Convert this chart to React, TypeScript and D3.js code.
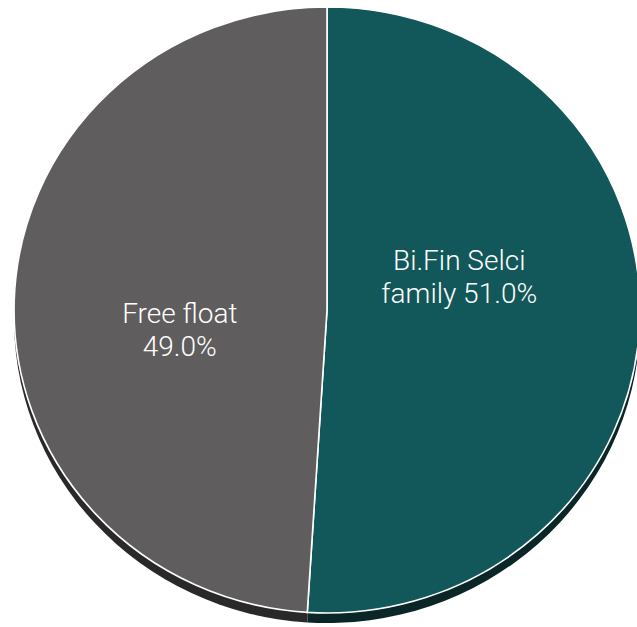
import React from "react";
import * as d3 from "d3";

const categories = ["Bi.Fin Selci family", "Free float"];
const values = [51.0, 49.0];
const labelLines = [["Bi.Fin Selci", "family 51.0%"], ["Free float", "49.0%"]];
const colors = ["#12585a", "#5f5d5e"];
const shadowColors = ["#0a2627", "#2a2929"];

const W = 637, H = 627;
const cx = 327, cy = 310, rx = 313, ry = 303;
const shadowDy = 10;
const fontSize = 28;
const lineH = 33;
const labelR = 0.445;
// small manual nudges of label blocks relative to the centroid
const labelNudge = [[-7, -44], [-8, 17]];

export default function App() {
  const pie = d3.pie<number>().sort(null).value((d) => d)(values);
  const arc = d3.arc<d3.PieArcDatum<number>>().innerRadius(0).outerRadius(1);
  const labelArc = d3.arc<d3.PieArcDatum<number>>().innerRadius(labelR).outerRadius(labelR);

  return (
    <svg width={W} height={H} style={{ position: "absolute", left: 0, top: 0, background: "#fff" }}>
      <g transform={`translate(${cx},${cy + shadowDy}) scale(${rx},${ry})`}>
        {pie.map((p, i) => (
          <path key={"s" + i} d={arc(p) || ""} fill={shadowColors[i]} />
        ))}
      </g>
      <g transform={`translate(${cx},${cy}) scale(${rx},${ry})`}>
        {pie.map((p, i) => (
          <path
            key={"p" + i}
            d={arc(p) || ""}
            fill={colors[i]}
            stroke="#fff"
            strokeWidth={1.6}
            vectorEffect="non-scaling-stroke"
          />
        ))}
      </g>
      {pie.map((p, i) => {
        const [ux, uy] = labelArc.centroid(p);
        const x = cx + ux * rx + labelNudge[i][0];
        const y = cy + uy * ry + labelNudge[i][1];
        const lines = labelLines[i];
        return (
          <text
            key={"t" + i}
            x={x}
            y={y}
            textAnchor="middle"
            fill="#fff"
            fontFamily="Roboto, 'Noto Sans', sans-serif"
            fontWeight={300}
            fontSize={fontSize}
          >
            {lines.map((l, j) => (
              <tspan key={j} x={x} y={y + j * lineH}>
                {l}
              </tspan>
            ))}
          </text>
        );
      })}
    </svg>
  );
}
